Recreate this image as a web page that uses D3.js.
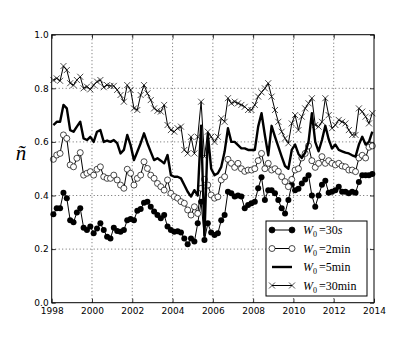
<!DOCTYPE html>
<html>
<head>
<meta charset="utf-8">
<script src="https://cdn.jsdelivr.net/npm/d3@7/dist/d3.min.js"></script>
<style>
  body { margin: 0; background: #fff; }
  .tick text { font-family: "DejaVu Sans", sans-serif; font-size: 9px; fill: #000; }
  .tick line { stroke: #000; stroke-width: 0.8; }
</style>
</head>
<body>
<div class="graph"></div>
<script>
// samples are taken every two months, Jan/Feb 1998 .. Nov/Dec 2013
let START = 1998, PER_YEAR = 6;

let xTicks = [1998, 2000, 2002, 2004, 2006, 2008, 2010, 2012, 2014];
let yTicks = [0.0, 0.2, 0.4, 0.6, 0.8, 1.0];

let w30s = [0.33,0.352,0.352,0.41,0.39,0.308,0.30,0.337,0.352,0.28,0.271,0.284,
  0.259,0.277,0.296,0.271,0.246,0.24,0.28,0.268,0.265,0.271,0.308,0.312,
  0.308,0.343,0.35,0.373,0.377,0.358,0.34,0.327,0.315,0.327,0.284,0.271,
  0.265,0.267,0.262,0.24,0.218,0.24,0.228,0.296,0.377,0.234,0.296,0.262,
  0.253,0.259,0.308,0.327,0.414,0.408,0.396,0.40,0.396,0.352,0.365,0.371,
  0.377,0.427,0.468,0.383,0.42,0.42,0.408,0.383,0.352,0.333,0.383,0.44,
  0.42,0.425,0.445,0.46,0.476,0.40,0.358,0.40,0.44,0.455,0.41,0.414,
  0.42,0.433,0.414,0.414,0.408,0.414,0.41,0.45,0.476,0.476,0.476,0.48];

let w2min = [0.535,0.551,0.557,0.626,0.613,0.514,0.507,0.539,0.56,0.476,0.483,0.489,
  0.476,0.498,0.507,0.47,0.464,0.464,0.476,0.458,0.439,0.427,0.498,0.483,
  0.439,0.464,0.476,0.526,0.501,0.476,0.464,0.445,0.433,0.42,0.458,0.408,
  0.396,0.39,0.377,0.371,0.346,0.327,0.358,0.333,0.427,0.46,0.439,0.402,
  0.39,0.395,0.458,0.47,0.535,0.52,0.505,0.52,0.50,0.49,0.495,0.495,
  0.50,0.53,0.557,0.50,0.52,0.495,0.50,0.49,0.47,0.452,0.433,0.46,
  0.495,0.50,0.54,0.557,0.585,0.53,0.505,0.52,0.545,0.52,0.53,0.52,
  0.514,0.52,0.51,0.507,0.495,0.495,0.489,0.54,0.55,0.54,0.58,0.585];

let w5min = [0.663,0.675,0.675,0.738,0.725,0.644,0.638,0.657,0.675,0.613,0.607,0.619,
  0.60,0.638,0.644,0.60,0.605,0.60,0.607,0.595,0.557,0.57,0.626,0.588,
  0.532,0.563,0.595,0.632,0.595,0.563,0.532,0.539,0.53,0.52,0.551,0.476,
  0.47,0.47,0.464,0.439,0.414,0.396,0.42,0.40,0.66,0.25,0.63,0.50,
  0.476,0.483,0.507,0.563,0.651,0.60,0.60,0.588,0.576,0.576,0.57,0.57,
  0.57,0.657,0.707,0.625,0.55,0.66,0.62,0.582,0.545,0.51,0.50,0.57,
  0.59,0.555,0.54,0.56,0.60,0.707,0.60,0.565,0.607,0.66,0.61,0.575,
  0.59,0.57,0.565,0.56,0.557,0.55,0.545,0.59,0.619,0.59,0.60,0.638];

let w30min = [0.831,0.837,0.828,0.883,0.868,0.819,0.812,0.831,0.843,0.80,0.806,0.796,
  0.812,0.825,0.831,0.804,0.812,0.809,0.809,0.794,0.775,0.75,0.812,0.794,
  0.725,0.719,0.775,0.812,0.781,0.756,0.725,0.716,0.713,0.738,0.663,0.644,
  0.638,0.651,0.657,0.57,0.557,0.619,0.557,0.619,0.75,0.545,0.638,0.619,
  0.60,0.619,0.688,0.675,0.763,0.744,0.75,0.744,0.738,0.731,0.719,0.719,
  0.738,0.769,0.785,0.80,0.819,0.769,0.719,0.675,0.638,0.613,0.595,0.669,
  0.70,0.644,0.694,0.725,0.744,0.763,0.663,0.657,0.675,0.763,0.70,0.651,
  0.663,0.682,0.675,0.669,0.644,0.626,0.626,0.725,0.713,0.694,0.669,0.707];

let seriesNames = ["30s", "2min", "5min", "30min"];

(function(){
  let WIDTH = 415, HEIGHT = 346;
  let PAD = {left: 51.7, right: 41, top: 34.7, bottom: 43.3};

  let svg = d3.select("div.graph").append("svg")
      .attr("width", WIDTH)
      .attr("height", HEIGHT);

  let x = d3.scaleLinear().domain([1998, 2014]).range([PAD.left, WIDTH - PAD.right]);
  let y = d3.scaleLinear().domain([0, 1]).range([HEIGHT - PAD.bottom, PAD.top]);
  let tOf = i => START + (i + 0.5) / PER_YEAR;

  // dotted grid
  let grid = svg.append("g").attr("class", "grid")
      .attr("stroke", "#000").attr("stroke-width", 0.6)
      .attr("stroke-dasharray", "1,2.5");
  grid.selectAll("line.gx").data(xTicks.slice(1, -1)).enter().append("line")
    .attr("x1", d => x(d)).attr("x2", d => x(d))
    .attr("y1", y(0)).attr("y2", y(1));
  grid.selectAll("line.gy").data(yTicks.slice(1, -1)).enter().append("line")
    .attr("y1", d => y(d)).attr("y2", d => y(d))
    .attr("x1", x(1998)).attr("x2", x(2014));

  // axes, ticks pointing inward like classic matplotlib
  let fmtY = d3.format(".1f");
  svg.append("g").attr("transform", "translate(0," + y(0) + ")")
    .call(d3.axisBottom(x).tickValues(xTicks).tickFormat(d3.format("d"))
          .tickSize(-4).tickPadding(4.5))
    .call(g => g.select(".domain").remove());
  svg.append("g").attr("transform", "translate(0," + y(1) + ")")
    .call(d3.axisTop(x).tickValues(xTicks).tickFormat("").tickSize(-4))
    .call(g => g.select(".domain").remove());
  svg.append("g").attr("transform", "translate(" + x(1998) + ",0)")
    .call(d3.axisLeft(y).tickValues(yTicks).tickFormat(fmtY)
          .tickSize(-4).tickPadding(3))
    .call(g => g.select(".domain").remove());
  svg.append("g").attr("transform", "translate(" + x(2014) + ",0)")
    .call(d3.axisRight(y).tickValues(yTicks).tickFormat("").tickSize(-4))
    .call(g => g.select(".domain").remove());

  let line = d3.line().x((d, i) => x(tOf(i))).y(d => y(d));
  let plot = svg.append("g").attr("class", "plot");

  // W0 = 30s : filled dots
  plot.append("path").datum(w30s).attr("d", line)
    .attr("fill", "none").attr("stroke", "#000").attr("stroke-width", 1);
  plot.selectAll("circle.s30").data(w30s).enter().append("circle")
    .attr("cx", (d, i) => x(tOf(i))).attr("cy", d => y(d)).attr("r", 3)
    .attr("fill", "#000");

  // W0 = 2min : open dots
  plot.append("path").datum(w2min).attr("d", line)
    .attr("fill", "none").attr("stroke", "#000").attr("stroke-width", 1);
  plot.selectAll("circle.m2").data(w2min).enter().append("circle")
    .attr("cx", (d, i) => x(tOf(i))).attr("cy", d => y(d)).attr("r", 3)
    .attr("fill", "#fff").attr("stroke", "#000").attr("stroke-width", 0.7);

  // W0 = 5min : thick plain line
  plot.append("path").datum(w5min).attr("d", line)
    .attr("fill", "none").attr("stroke", "#000").attr("stroke-width", 2.4)
    .attr("stroke-linejoin", "round");

  // W0 = 30min : crosses
  plot.append("path").datum(w30min).attr("d", line)
    .attr("fill", "none").attr("stroke", "#000").attr("stroke-width", 1);
  let cross = "M-3,-3L3,3M-3,3L3,-3";
  plot.selectAll("path.m30").data(w30min).enter().append("path")
    .attr("transform", (d, i) => "translate(" + x(tOf(i)) + "," + y(d) + ")")
    .attr("d", cross).attr("stroke", "#000").attr("stroke-width", 0.7);

  // frame
  svg.append("rect")
    .attr("x", x(1998)).attr("y", y(1))
    .attr("width", x(2014) - x(1998)).attr("height", y(0) - y(1))
    .attr("fill", "none").attr("stroke", "#000").attr("stroke-width", 1);

  // y label
  svg.append("text")
    .attr("x", 21).attr("y", 160)
    .attr("text-anchor", "middle")
    .style("font-family", "'Liberation Serif', serif")
    .style("font-style", "italic")
    .style("font-size", "21px")
    .text("ñ");

  // legend
  let LEG = {x: 266, y: 221, w: 101, h: 75, row: 18.5};
  let leg = svg.append("g").attr("class", "legend");
  leg.append("rect")
    .attr("x", LEG.x).attr("y", LEG.y).attr("width", LEG.w).attr("height", LEG.h)
    .attr("fill", "#fff").attr("stroke", "#000").attr("stroke-width", 1);

  let rows = leg.selectAll("g.row").data(seriesNames).enter().append("g")
    .attr("transform", (d, i) => "translate(" + LEG.x + "," + (LEG.y + 9 + i * LEG.row) + ")");
  rows.append("line")
    .attr("x1", 6).attr("x2", 26).attr("y1", 0).attr("y2", 0)
    .attr("stroke", "#000").attr("stroke-width", (d, i) => i == 2 ? 2.4 : 1);
  rows.filter((d, i) => i < 2).selectAll("circle").data(d => [[d, 6], [d, 26]])
    .enter().append("circle")
    .attr("cx", d => d[1]).attr("cy", 0).attr("r", 3)
    .attr("fill", d => d[0] == "30s" ? "#000" : "#fff")
    .attr("stroke", "#000").attr("stroke-width", 0.7);
  rows.filter((d, i) => i == 3).selectAll("path").data([6, 26])
    .enter().append("path")
    .attr("transform", d => "translate(" + d + ",0)")
    .attr("d", cross).attr("stroke", "#000").attr("stroke-width", 0.7);

  let txt = rows.append("text")
    .attr("x", 37).attr("y", 4)
    .style("font-family", "'Liberation Serif', serif")
    .style("font-size", "12px");
  txt.append("tspan").style("font-style", "italic").text("W");
  txt.append("tspan").attr("dy", 3).style("font-size", "8px").text("0");
  txt.append("tspan").attr("dy", -3).attr("dx", 2).text(d => "=" + d.replace(/[a-z]+/, ""));
  txt.append("tspan")
    .style("font-style", d => d == "30s" ? "italic" : "normal")
    .text(d => d.replace(/[0-9]+/, ""));
})();
</script>
</body>
</html>
